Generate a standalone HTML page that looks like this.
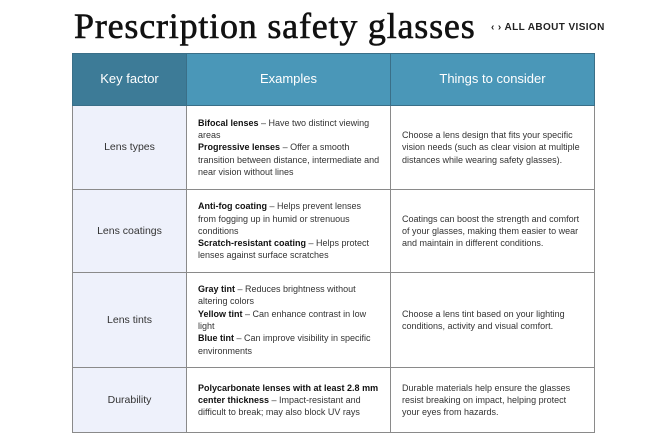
<!DOCTYPE html>
<html><head><meta charset="utf-8"><style>
body{margin:0;width:660px;height:440px;background:#fff;position:relative;overflow:hidden;font-family:"Liberation Sans",sans-serif;}
.title{position:absolute;left:74px;top:5px;font-family:"Liberation Serif",serif;font-size:36px;color:#111;letter-spacing:0.8px;white-space:nowrap;-webkit-text-stroke:0.6px #111;}
.logo{position:absolute;left:491px;top:22px;font-size:10px;font-weight:bold;color:#222;letter-spacing:0.4px;white-space:nowrap;}
table{position:absolute;left:72px;top:53px;border-collapse:collapse;table-layout:fixed;width:522px;}
td,th{border:1px solid #8a8a8a;font-size:9px;line-height:12.3px;color:#333;vertical-align:middle;}
th{height:49px;color:#fff;font-weight:normal;font-size:13px;background:#4a97b8;border-color:#3a6f88;}
th.k{background:#3d7b97;}
td{padding:0 9px 0 11px;}
td.k{background:#eef1fb;text-align:center;font-size:10.5px;color:#333;padding:0;}
b{color:#111;}
</style></head><body>
<div class="title">Prescription safety glasses</div>
<div class="logo">‹ › ALL ABOUT VISION</div>
<table>
<colgroup><col style="width:114px"><col style="width:204px"><col style="width:204px"></colgroup>
<tr><th class="k">Key factor</th><th>Examples</th><th>Things to consider</th></tr>
<tr style="height:84px"><td class="k">Lens types</td><td><b>Bifocal lenses</b> – Have two distinct viewing areas<br><b>Progressive lenses</b> – Offer a smooth transition between distance, intermediate and near vision without lines</td><td>Choose a lens design that fits your specific vision needs (such as clear vision at multiple distances while wearing safety glasses).</td></tr>
<tr style="height:83px"><td class="k">Lens coatings</td><td><b>Anti-fog coating</b> – Helps prevent lenses from fogging up in humid or strenuous conditions<br><b>Scratch-resistant coating</b> – Helps protect lenses against surface scratches</td><td>Coatings can boost the strength and comfort of your glasses, making them easier to wear and maintain in different conditions.</td></tr>
<tr style="height:95px"><td class="k">Lens tints</td><td><b>Gray tint</b> – Reduces brightness without altering colors<br><b>Yellow tint</b> – Can enhance contrast in low light<br><b>Blue tint</b> – Can improve visibility in specific environments</td><td>Choose a lens tint based on your lighting conditions, activity and visual comfort.</td></tr>
<tr style="height:65px"><td class="k">Durability</td><td><b style="white-space:nowrap">Polycarbonate lenses with at least 2.8 mm</b> <b>center thickness</b> – Impact-resistant and difficult to break; may also block UV rays</td><td>Durable materials help ensure the glasses resist breaking on impact, helping protect your eyes from hazards.</td></tr>
</table>
</body></html>
